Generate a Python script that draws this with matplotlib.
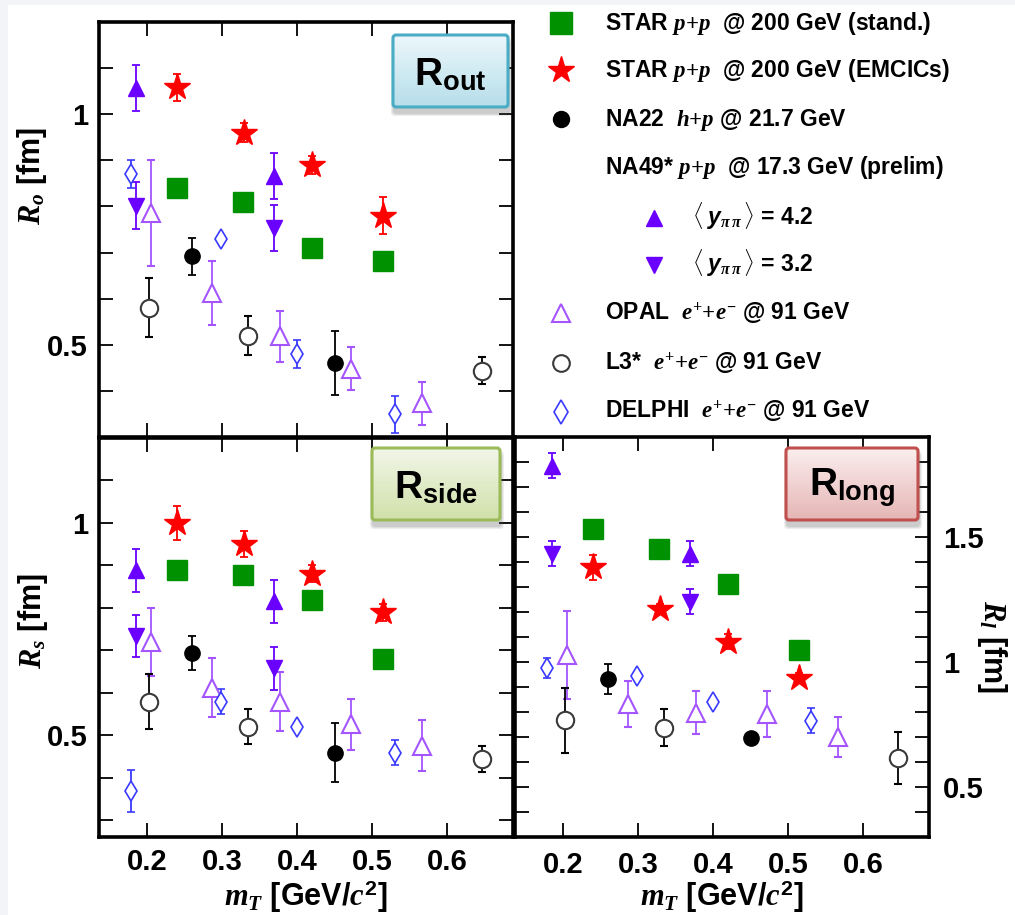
import numpy as np
import matplotlib
matplotlib.use('Agg')
import matplotlib.pyplot as plt
from matplotlib.patches import FancyBboxPatch, Rectangle
from matplotlib.ticker import MultipleLocator, FuncFormatter, FormatStrFormatter

plt.rcParams['font.family'] = 'Liberation Sans'
plt.rcParams['font.weight'] = 'bold'
plt.rcParams['axes.labelweight'] = 'bold'
plt.rcParams['mathtext.fontset'] = 'custom'
plt.rcParams['mathtext.rm'] = 'Liberation Serif'
plt.rcParams['mathtext.it'] = 'Liberation Serif:italic'
plt.rcParams['mathtext.bf'] = 'Liberation Sans:bold'
plt.rcParams['mathtext.sf'] = 'Liberation Sans:bold:italic'

# ---- data (m_T in GeV/c^2, radii in fm) ----
STAR_X = [0.240, 0.328, 0.420, 0.515]
STAND_RO = [0.841, 0.810, 0.710, 0.681]
STAND_RS = [0.889, 0.878, 0.819, 0.679]
STAND_RL = [1.534, 1.453, 1.313, 1.050]

EMCIC_X = [0.240, 0.329, 0.420, 0.515]
EMCIC_RO = [1.058, 0.960, 0.890, 0.780]
EMCIC_RO_ERR = [0.03, 0.02, 0.02, 0.04]
EMCIC_RS = [0.999, 0.950, 0.880, 0.789]
EMCIC_RS_ERR = [0.04, 0.03, 0.02, 0.02]
EMCIC_RL = [1.379, 1.211, 1.081, 0.935]
EMCIC_RL_ERR = [0.05, 0.02, 0.03, 0.02]

NA22_X = [0.260, 0.450]
NA22_RO = [0.692, 0.460]
NA22_RO_ERR = [0.04, 0.07]
NA22_RS = [0.693, 0.459]
NA22_RS_ERR = [0.04, 0.07]
NA22_RL = [0.933, 0.698]
NA22_RL_ERR = [0.06, 0.0]

NA49_X = [0.185, 0.369]
Y42_RO = [1.056, 0.866]
Y42_RS = [0.888, 0.815]
Y42_RL = [1.786, 1.433]
Y32_RO = [0.802, 0.754]
Y32_RS = [0.734, 0.657]
Y32_RL = [1.434, 1.242]
NA49_ERR = [0.05, 0.05]

OPAL_X = [0.205, 0.286, 0.377, 0.472, 0.567]
OPAL_RO = [0.786, 0.612, 0.518, 0.448, 0.373]
OPAL_RO_ERR = [0.115, 0.07, 0.056, 0.047, 0.046]
OPAL_RS = [0.719, 0.612, 0.579, 0.526, 0.475]
OPAL_RS_ERR = [0.08, 0.07, 0.07, 0.06, 0.06]
OPAL_RL = [1.027, 0.832, 0.798, 0.792, 0.700]
OPAL_RL_ERR = [0.176, 0.093, 0.087, 0.093, 0.079]

L3_X = [0.202, 0.334, 0.647]
L3_RO = [0.580, 0.520, 0.444]
L3_RO_ERR = [0.064, 0.043, 0.03]
L3_RS = [0.579, 0.520, 0.443]
L3_RS_ERR = [0.064, 0.042, 0.031]
L3_RL = [0.767, 0.738, 0.617]
L3_RL_ERR = [0.13, 0.074, 0.105]

DELPHI_X = [0.179, 0.299, 0.400, 0.530]
DELPHI_RO = [0.870, 0.730, 0.480, 0.349]
DELPHI_RO_ERR = [0.03, 0.0, 0.03, 0.04]
DELPHI_RS = [0.369, 0.579, 0.520, 0.459]
DELPHI_RS_ERR = [0.05, 0.03, 0.0, 0.03]
DELPHI_RL = [0.977, 0.946, 0.839, 0.765]
DELPHI_RL_ERR = [0.04, 0.0, 0.0, 0.05]

GREEN = '#009100'
RED = '#ff0000'
VIOLET = '#6a00ff'
OPAL_C = '#a455ff'
DELPHI_C = '#3a3aff'
L3_C = '#3a3a3a'

W, H = 1015, 915
fig = plt.figure(figsize=(W / 100, H / 100), dpi=100)
fig.patch.set_facecolor('#f2f4f7')
fig.add_artist(Rectangle((8 / W, 0), 1, 1 - 5 / H, transform=fig.transFigure,
                         facecolor='white', edgecolor='none', zorder=-10))


def px_axes(l, t, r, b):
    return fig.add_axes([l / W, 1 - b / H, (r - l) / W, (b - t) / H])


def fmt(v, pos):
    if abs(v * 2 - round(v * 2)) < 1e-6:
        return '%g' % round(v, 1)
    return ''


def style(ax, ylim):
    ax.set_xlim(0.136, 0.688)
    ax.set_ylim(*ylim)
    ax.xaxis.set_major_locator(MultipleLocator(0.1))
    ax.xaxis.set_major_formatter(FormatStrFormatter('%.1f'))
    ax.yaxis.set_major_locator(MultipleLocator(0.1))
    ax.yaxis.set_major_formatter(FuncFormatter(fmt))
    ax.tick_params(direction='in', length=10, width=1.3, top=True, right=True,
                   labelsize=21, pad=8)
    for sp in ax.spines.values():
        sp.set_linewidth(2.6)


def draw(ax, i, ebar_kw=dict(capsize=2.6, elinewidth=1.3, capthick=1.3, ls='none')):
    ax.errorbar(OPAL_X, [OPAL_RO, OPAL_RS, OPAL_RL][i], yerr=[OPAL_RO_ERR, OPAL_RS_ERR, OPAL_RL_ERR][i],
                marker='^', ms=13, mfc='white', mec=OPAL_C, mew=1.5, ecolor=OPAL_C, **ebar_kw)
    ax.errorbar(DELPHI_X, [DELPHI_RO, DELPHI_RS, DELPHI_RL][i], yerr=[DELPHI_RO_ERR, DELPHI_RS_ERR, DELPHI_RL_ERR][i],
                marker='d', ms=10, mfc='white', mec=DELPHI_C, mew=1.2, ecolor=DELPHI_C, **ebar_kw)
    ax.errorbar(L3_X, [L3_RO, L3_RS, L3_RL][i], yerr=[L3_RO_ERR, L3_RS_ERR, L3_RL_ERR][i],
                marker='o', ms=12.5, mfc='white', mec=L3_C, mew=1.5, ecolor='black', **ebar_kw)
    ax.errorbar(NA22_X, [NA22_RO, NA22_RS, NA22_RL][i], yerr=[NA22_RO_ERR, NA22_RS_ERR, NA22_RL_ERR][i],
                marker='o', ms=11, color='black', ecolor='black', **ebar_kw)
    ax.errorbar(NA49_X, [Y42_RO, Y42_RS, Y42_RL][i], yerr=NA49_ERR,
                marker='^', ms=11, color=VIOLET, ecolor=VIOLET, **ebar_kw)
    ax.errorbar(NA49_X, [Y32_RO, Y32_RS, Y32_RL][i], yerr=NA49_ERR,
                marker='v', ms=11, color=VIOLET, ecolor=VIOLET, **ebar_kw)
    ax.plot(STAR_X, [STAND_RO, STAND_RS, STAND_RL][i], 's', ms=14.5, color=GREEN, ls='none')
    ax.errorbar(EMCIC_X, [EMCIC_RO, EMCIC_RS, EMCIC_RL][i], yerr=[EMCIC_RO_ERR, EMCIC_RS_ERR, EMCIC_RL_ERR][i],
                marker='*', ms=20, color=RED, ecolor=RED, **ebar_kw)


ax_o = px_axes(99, 22, 513, 437)
ax_s = px_axes(99, 438, 513, 837)
ax_l = px_axes(515, 437, 929, 837)

style(ax_o, (0.3, 1.2))
style(ax_s, (0.26, 1.2))
style(ax_l, (0.3, 1.9))
ax_o.tick_params(labelbottom=False)
ax_l.tick_params(labelleft=False, labelright=True, pad=10)

draw(ax_o, 0)
draw(ax_s, 1)
draw(ax_l, 2)

ax_o.set_ylabel(r'$R_o$ [fm]', fontsize=22, va='center')
ax_o.yaxis.set_label_coords(-0.163, 0.629)
ax_s.set_ylabel(r'$R_s$ [fm]', fontsize=22, va='center')
ax_s.yaxis.set_label_coords(-0.159, 0.541)
ax_l.yaxis.set_label_position('right')
ax_l.set_ylabel(r'$R_l$ [fm]', fontsize=22, va='center', rotation=270)
ax_l.yaxis.set_label_coords(1.152, 0.476)
for ax in (ax_s, ax_l):
    ax.set_xlabel(r'$m_T$ [GeV/$c^{\mathbf{2}}$]', fontsize=22, va='center')
    ax.xaxis.set_label_coords(0.5, -0.15)

# overlay in pixel coordinates for legend and label boxes
lax = fig.add_axes([0, 0, 1, 1], zorder=5)
lax.patch.set_alpha(0)


def label_box(l, t, r, b, top_c, bot_c, edge, text):
    for k, a in enumerate([0.10, 0.10, 0.12]):
        g = 3 - k
        sh = FancyBboxPatch((l + 1 - g, t + 6 - g), r - l + 2 * g, b - t + 2 * g,
                            boxstyle='round,pad=0,rounding_size=4',
                            facecolor='#555555', edgecolor='none', alpha=a)
        lax.add_patch(sh)
    box = FancyBboxPatch((l, t), r - l, b - t, boxstyle='round,pad=0,rounding_size=3',
                         facecolor='none', edgecolor=edge, linewidth=2.2, zorder=3)
    lax.add_patch(box)
    c1 = np.array(matplotlib.colors.to_rgb(top_c))
    c2 = np.array(matplotlib.colors.to_rgb(bot_c))
    f = np.linspace(0, 1, 64)[:, None, None]
    grad = c1 * (1 - f) + c2 * f
    im = lax.imshow(grad, extent=(l, r, b, t), origin='upper', aspect='auto', zorder=2)
    im.set_clip_path(box)
    lax.text((l + r) / 2, (t + b) / 2 + 4, text, fontsize=28, ha='center', va='center', zorder=4)


label_box(393, 35, 508, 107, '#ecf7fb', '#b6deea', '#4bacc6', r'R$_{\mathbf{out}}$')
label_box(372, 448, 500, 520, '#f2f6e8', '#d0e1aa', '#9bbb59', r'R$_{\mathbf{side}}$')
label_box(786, 448, 918, 520, '#fbeeee', '#e5b6b5', '#c0504d', r'R$_{\mathbf{long}}$')

# legend
LEG_FS = 16.5
EE = r'$\mathit{e}^{+}{+}\mathit{e}^{-}$'
rows = [
    (561, 22.7, dict(marker='s', ms=16, color=GREEN), 605, r'STAR $\mathit{p}{+}\mathit{p}$  @ 200 GeV (stand.)'),
    (561, 70.0, dict(marker='*', ms=20, color=RED), 605, r'STAR $\mathit{p}{+}\mathit{p}$  @ 200 GeV (EMCICs)'),
    (561, 119.3, dict(marker='o', ms=11.5, color='black'), 605, r'NA22  $\mathit{h}{+}\mathit{p}$ @ 21.7 GeV'),
    (None, 166.7, None, 605, r'NA49* $\mathit{p}{+}\mathit{p}$  @ 17.3 GeV (prelim)'),
    (654, 218.3, dict(marker='^', ms=12, color=VIOLET), 692, r'$\langle\;\mathsf{y}_{\pi\,\pi}\,\rangle$ = 4.2'),
    (654, 265.0, dict(marker='v', ms=12, color=VIOLET), 692, r'$\langle\;\mathsf{y}_{\pi\,\pi}\,\rangle$ = 3.2'),
    (561, 313.3, dict(marker='^', ms=12.5, mfc='white', mec=OPAL_C, mew=1.5), 605, 'OPAL  ' + EE + ' @ 91 GeV'),
    (561, 363.3, dict(marker='o', ms=12, mfc='white', mec=L3_C, mew=1.5), 605, 'L3*  ' + EE + ' @ 91 GeV'),
    (561, 411.7, dict(marker='d', ms=12, mfc='white', mec=DELPHI_C, mew=1.2), 605, 'DELPHI  ' + EE + ' @ 91 GeV'),
]
for mx, my, mk, tx, txt in rows:
    if mk is not None:
        lax.plot([mx], [my], ls='none', **mk)
    lax.text(tx, my + 7, txt, fontsize=LEG_FS, ha='left', va='baseline')

lax.set_xlim(0, W)
lax.set_ylim(H, 0)
lax.axis('off')

fig.savefig('out.png', dpi=100, facecolor=fig.get_facecolor())
